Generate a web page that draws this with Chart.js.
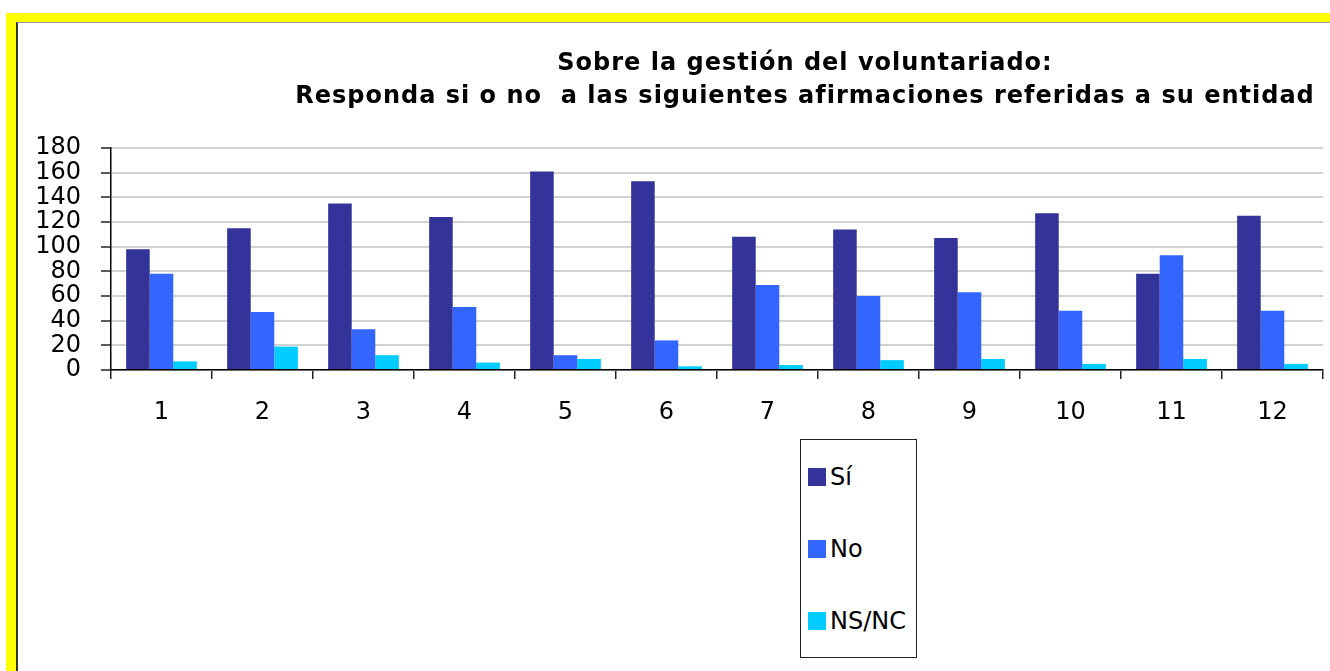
<!DOCTYPE html>
<html>
<head>
<meta charset="utf-8">
<script src="https://cdn.jsdelivr.net/npm/chart.js@4.4.0/dist/chart.umd.min.js"></script>
<style>
  html, body { margin:0; padding:0; width:1330px; height:671px; overflow:hidden; background:#fff; }
  body { font-family: "DejaVu Sans", Verdana, sans-serif; position:relative; }
  #frame { position:absolute; left:6px; top:13px; width:1400px; height:700px; background:#ffff00; }
  #inner { position:absolute; left:10px; top:9px; width:1400px; height:700px; background:#fff;
           border-left:2px solid #333; border-top:1px solid #999; box-sizing:border-box; }
  #chart { position:absolute; left:0; top:0; }
  #title { position:absolute; left:255px; width:1100px; top:46px; text-align:center; font-weight:bold;
           font-size:24px; line-height:33px; letter-spacing:1px; color:#000; white-space:pre; }
  #legend { position:absolute; left:800px; top:439px; width:117px; height:219px; box-sizing:border-box;
            border:1.5px solid #222; background:#fff; }
  .li { position:absolute; left:7px; height:24px; display:flex; align-items:center; font-size:24px; color:#000; }
  .sw { width:18px; height:18px; margin-right:4px; }
</style>
</head>
<body>
<div id="frame"><div id="inner"></div></div>
<canvas id="chart" width="1330" height="671"></canvas>
<div id="title"></div>
<div id="legend"></div>
<script>
// ---- data ----
const titleLines = ["Sobre la gestión del voluntariado:", "Responda si o no  a las siguientes afirmaciones referidas a su entidad"];
const categories = ["1", "2", "3", "4", "5", "6", "7", "8", "9", "10", "11", "12"];
const seriesLabels = ["Sí", "No", "NS/NC"];
const siValues   = [98, 115, 135, 124, 161, 153, 108, 114, 107, 127, 78, 125];
const noValues   = [78, 47, 33, 51, 12, 24, 69, 60, 63, 48, 93, 48];
const nsncValues = [7, 19, 12, 6, 9, 3, 4, 8, 9, 5, 9, 5];
const yMin = 0, yMax = 180, yStep = 20;
const seriesColors = ["#333399", "#3366FF", "#00CCFF"];

document.getElementById('title').textContent = titleLines.join("\n");

const seriesValues = [siValues, noValues, nsncValues];
const datasets = seriesLabels.map((lab, i) => ({
  label: lab,
  data: seriesValues[i],
  backgroundColor: seriesColors[i],
  borderWidth: 0
}));

// legend (HTML, vertical box)
const legend = document.getElementById('legend');
const legendTops = [25, 97, 169];
seriesLabels.forEach((lab, i) => {
  const d = document.createElement('div');
  d.className = 'li';
  d.style.top = legendTops[i] + 'px';
  const sw = document.createElement('span');
  sw.className = 'sw';
  sw.style.background = seriesColors[i];
  const t = document.createElement('span');
  t.textContent = lab;
  d.appendChild(sw); d.appendChild(t);
  legend.appendChild(d);
});

const FONT = "'DejaVu Sans', Verdana, sans-serif";
new Chart(document.getElementById('chart'), {
  type: 'bar',
  data: { labels: categories, datasets: datasets },
  options: {
    responsive: false,
    animation: false,
    devicePixelRatio: 1,
    layout: { padding: { left: 0, top: 148, right: 7, bottom: 0 } },
    plugins: { legend: { display: false }, title: { display: false }, tooltip: { enabled: false } },
    datasets: { bar: { categoryPercentage: 0.7, barPercentage: 1.0 } },
    scales: {
      x: {
        offset: true,
        grid: { offset: true, drawOnChartArea: false, drawTicks: true, tickLength: 9, color: '#222', lineWidth: 1.5 },
        border: { display: true, color: '#000', width: 1.5 },
        ticks: { color: '#000', font: { family: FONT, size: 24, lineHeight: 1 }, padding: 22, maxRotation: 0, autoSkip: false },
        afterFit: (s) => { s.height = 301; }
      },
      y: {
        min: yMin, max: yMax,
        ticks: { stepSize: yStep, autoSkip: false, color: '#000', font: { family: FONT, size: 24, lineHeight: 1 }, padding: 20 },
        grid: { color: '#d2d2d2', lineWidth: 2, tickColor: '#222', tickLength: 10, tickWidth: 1.5 },
        border: { display: true, color: '#000', width: 1.5 },
        afterFit: (s) => { s.width = 111; }
      }
    }
  }
});
</script>
</body>
</html>
